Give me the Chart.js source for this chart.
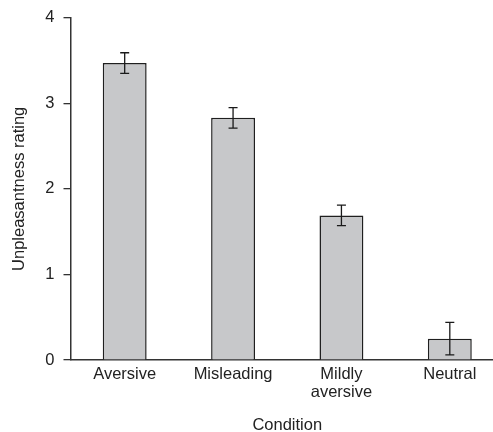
<!DOCTYPE html>
<html>
<head>
<meta charset="utf-8">
<script src="https://cdn.jsdelivr.net/npm/chart.js"></script>
<style>
  html, body { margin: 0; padding: 0; background: #fff; overflow: hidden; }
</style>
</head>
<body>
<canvas id="chart" width="508" height="432"></canvas>
<script>
// values
const conditions = ['Aversive', 'Misleading', ['Mildly', 'aversive'], 'Neutral'];
const ratings = [3.47, 2.83, 1.69, 0.25];
const errors = [0.12, 0.12, 0.12, 0.19];
const yTicks = [0, 1, 2, 3, 4];

const textColor = '#222';
const font = { family: 'Liberation Sans, Arial, sans-serif', size: 16.5, lineHeight: 1.05 };

// simple error bar drawing on top of the bars
const errorBars = {
    id: 'errorBars',
    afterDatasetsDraw(chart) {
        const ctx = chart.ctx;
        const yScale = chart.scales.y;
        const meta = chart.getDatasetMeta(0);
        ctx.save();
        ctx.strokeStyle = '#1a1a1a';
        ctx.lineWidth = 1.3;
        meta.data.forEach((bar, i) => {
            const x = bar.x;
            const top = yScale.getPixelForValue(ratings[i] + errors[i]);
            const bottom = yScale.getPixelForValue(ratings[i] - errors[i]);
            const cap = 4.5;
            ctx.beginPath();
            ctx.moveTo(x, top);
            ctx.lineTo(x, bottom);
            ctx.moveTo(x - cap, top);
            ctx.lineTo(x + cap, top);
            ctx.moveTo(x - cap, bottom);
            ctx.lineTo(x + cap, bottom);
            ctx.stroke();
        });
        ctx.restore();
    }
};

new Chart(document.getElementById('chart'), {
    type: 'bar',
    data: {
        labels: conditions,
        datasets: [{
            data: ratings,
            backgroundColor: '#c7c8ca',
            borderColor: '#1f1f1f',
            borderWidth: 1.5,
            borderSkipped: 'bottom',
            categoryPercentage: 1,
            barPercentage: 0.405
        }]
    },
    options: {
        responsive: false,
        animation: false,
        layout: { padding: { top: 9, right: 4, left: 11, bottom: 0.4 } },
        plugins: {
            legend: { display: false },
            tooltip: { enabled: false }
        },
        scales: {
            x: {
                grid: { display: false, drawTicks: false },
                border: { display: true, color: '#333', width: 1.5 },
                ticks: { color: textColor, font: font, padding: 6, maxRotation: 0, autoSkip: false },
                title: { display: true, text: 'Condition', color: textColor, font: { ...font, lineHeight: 0.8 }, padding: { top: 11.7, bottom: 0 } }
            },
            y: {
                min: 0,
                max: 4,
                afterBuildTicks: axis => { axis.ticks = yTicks.map(v => ({ value: v })); },
                grid: { drawOnChartArea: false, drawTicks: true, tickLength: 7, color: '#333', lineWidth: 1.3 },
                border: { display: true, color: '#333', width: 1.5 },
                ticks: { color: textColor, font: font, padding: 9 },
                title: { display: true, text: 'Unpleasantness rating', color: textColor, font: font, padding: { top: 0, bottom: 8 } }
            }
        }
    },
    plugins: [errorBars]
});
</script>
</body>
</html>
